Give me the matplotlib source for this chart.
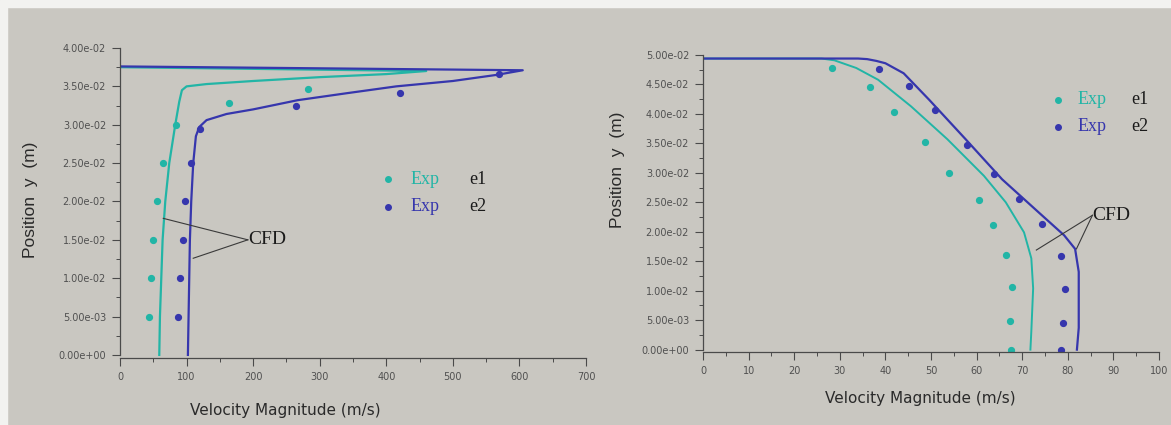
import numpy as np
import matplotlib
matplotlib.use('Agg')
import matplotlib.pyplot as plt
from matplotlib.patches import Rectangle
from matplotlib.ticker import MultipleLocator, FuncFormatter

# --- left panel: profile at the nozzle (m/s vs m) ---
cfd1_left_v = [59, 60, 62, 64, 68, 74, 83, 89, 93, 100, 130, 200, 300, 400, 460, 0]
cfd1_left_y = [0.0, 0.005, 0.010, 0.015, 0.020, 0.025, 0.030, 0.033, 0.0345, 0.0350,
               0.0353, 0.0357, 0.0362, 0.0366, 0.0370, 0.0375]
cfd2_left_v = [102, 103, 104, 105, 107, 110, 114, 119, 130, 160, 200, 267, 340, 415,
               500, 566, 605, 0]
cfd2_left_y = [0.0, 0.005, 0.010, 0.015, 0.020, 0.025, 0.0285, 0.0297, 0.0306, 0.0314,
               0.0320, 0.0332, 0.0341, 0.0350, 0.0357, 0.0365, 0.0371, 0.0376]
exp1_left_v = [43, 46, 50, 55, 64, 84, 163, 282]
exp1_left_y = [0.005, 0.010, 0.015, 0.020, 0.025, 0.030, 0.0328, 0.0347]
exp2_left_v = [87, 90, 95, 97, 107, 120, 264, 420, 570]
exp2_left_y = [0.005, 0.010, 0.015, 0.020, 0.025, 0.0295, 0.0325, 0.0341, 0.0366]

# --- right panel ---
cfd1_right_v = [0, 26, 28.8, 33.6, 38.4, 45.6, 53.6, 61.6, 66.4, 70.4, 72.0, 72.4, 72.0, 71.8]
cfd1_right_y = [0.0494, 0.0494, 0.0491, 0.0478, 0.0458, 0.0413, 0.0357, 0.0295, 0.0250,
                0.0199, 0.0155, 0.0104, 0.0031, 0.0]
cfd2_right_v = [0, 34, 36, 38, 40, 44, 49.6, 57.6, 65.6, 73.6, 79.2, 81.6, 82.4, 82.4, 82.0]
cfd2_right_y = [0.0494, 0.0494, 0.0493, 0.0490, 0.0486, 0.0469, 0.0424, 0.0357, 0.0289,
                0.0233, 0.0194, 0.0171, 0.0132, 0.0037, 0.0]
exp1_right_v = [28.2, 36.6, 41.8, 48.6, 54.0, 60.5, 63.7, 66.4, 67.8, 67.4, 67.6]
exp1_right_y = [0.0478, 0.0446, 0.0404, 0.0352, 0.0299, 0.0254, 0.0211, 0.0160,
                0.0107, 0.0048, 0.0]
exp2_right_v = [38.6, 45.2, 50.8, 57.8, 63.8, 69.3, 74.4, 78.6, 79.4, 78.9, 78.4]
exp2_right_y = [0.0476, 0.0447, 0.0406, 0.0348, 0.0298, 0.0256, 0.0213, 0.0159,
                0.0103, 0.0045, 0.0]

# CFD pointer: text anchor, then the two curve points it points to
cfd_left_text = (192, 0.0150)
cfd_left_targets = [(65, 0.0178), (110, 0.0126)]
cfd_right_text = (85.4, 0.0228)
cfd_right_targets = [(73.1, 0.0169), (81.9, 0.0171)]

cyan = '#22b5a6'
blue = '#3636ad'
bg = '#c9c7c1'
tick_c = '#505050'
narrow = ['Liberation Sans Narrow', 'DejaVu Sans']
serif = ['Liberation Serif', 'DejaVu Serif']

fig = plt.figure(figsize=(11.71, 4.25), dpi=100, facecolor=bg)
fig.patches.append(Rectangle((0, 1 - 7 / 425), 1, 7 / 425, transform=fig.transFigure,
                             color='#f2f2f0', zorder=0))
fig.patches.append(Rectangle((0, 0), 7 / 1171, 1, transform=fig.transFigure,
                             color='#f2f2f0', zorder=0))


def style(ax, xmax, xmaj, xmin, ymax):
    ax.set_facecolor(bg)
    for s in ['top', 'right']:
        ax.spines[s].set_visible(False)
    for s in ['left', 'bottom']:
        ax.spines[s].set_color('#4a4a4a')
        ax.spines[s].set_linewidth(0.9)
    ax.set_xlim(0, xmax)
    ax.set_ylim(-0.0004, ymax)
    ax.spines['left'].set_bounds(0, ymax)
    ax.xaxis.set_major_locator(MultipleLocator(xmaj))
    ax.xaxis.set_minor_locator(MultipleLocator(xmin))
    ax.yaxis.set_major_locator(MultipleLocator(0.005))
    ax.yaxis.set_minor_locator(MultipleLocator(0.0025))
    ax.yaxis.set_major_formatter(FuncFormatter(lambda v, p: '{:.2e}'.format(abs(v) if abs(v) < 1e-9 else v)))
    ax.xaxis.set_major_formatter(FuncFormatter(lambda v, p: '%d' % round(v)))
    ax.tick_params(which='major', direction='out', length=6, width=0.8, color='#4a4a4a',
                   labelsize=7, labelcolor=tick_c, pad=4)
    ax.tick_params(which='minor', direction='out', length=3, width=0.7, color='#4a4a4a')
    for lab in ax.get_xticklabels() + ax.get_yticklabels():
        lab.set_family(narrow)
    ax.set_xlabel('Velocity Magnitude (m/s)', family=narrow, fontsize=11, color='#2a2a2a')
    ax.set_ylabel('Position  y  (m)', family=['Liberation Sans', 'DejaVu Sans'],
                  fontsize=12.5, color='#2a2a2a')


def legend(ax, x, y1, y2, dx1, dx2):
    ax.plot([x], [y1], 'o', ms=4, color=cyan)
    ax.plot([x], [y2], 'o', ms=4, color=blue)
    ax.text(x + dx1, y1, 'Exp', color=cyan, family=serif, fontsize=13, va='center')
    ax.text(x + dx1, y2, 'Exp', color=blue, family=serif, fontsize=13, va='center')
    ax.text(x + dx2, y1, 'e1', color='#1a1a1a', family=serif, fontsize=13, va='center')
    ax.text(x + dx2, y2, 'e2', color='#1a1a1a', family=serif, fontsize=13, va='center')


def cfd_label(ax, anchor, targets, ha):
    for tx, ty in targets:
        ax.plot([anchor[0], tx], [anchor[1], ty], color='#3a3a3a', lw=0.8)
    ax.text(anchor[0], anchor[1], 'CFD', family=serif, fontsize=14, color='#1a1a1a',
            ha=ha, va='center')


# left panel
ax1 = fig.add_axes([120 / 1171, 1 - 358 / 425, 466 / 1171, 310 / 425])
style(ax1, 700, 100, 50, 0.04)
ax1.plot(cfd1_left_v, cfd1_left_y, color=cyan, lw=1.6)
ax1.plot(cfd2_left_v, cfd2_left_y, color=blue, lw=1.6)
ax1.plot(exp1_left_v, exp1_left_y, 'o', ms=4.2, color=cyan)
ax1.plot(exp2_left_v, exp2_left_y, 'o', ms=4.2, color=blue)
legend(ax1, 403, 0.0229, 0.0193, 34, 122)
cfd_label(ax1, cfd_left_text, cfd_left_targets, 'left')
ax1.xaxis.set_label_coords(0.354, -0.145)
ax1.yaxis.set_label_coords(-0.175, 0.51)

# right panel
ax2 = fig.add_axes([703 / 1171, 1 - 352 / 425, 456 / 1171, 297 / 425])
style(ax2, 100, 10, 5, 0.05)
ax2.plot(cfd1_right_v, cfd1_right_y, color=cyan, lw=1.4)
ax2.plot(cfd2_right_v, cfd2_right_y, color=blue, lw=1.6)
ax2.plot(exp1_right_v, exp1_right_y, 'o', ms=4.2, color=cyan)
ax2.plot(exp2_right_v, exp2_right_y, 'o', ms=4.2, color=blue)
legend(ax2, 77.9, 0.0424, 0.0378, 4.3, 16)
cfd_label(ax2, cfd_right_text, cfd_right_targets, 'left')
ax2.xaxis.set_label_coords(0.476, -0.13)
ax2.yaxis.set_label_coords(-0.172, 0.613)

plt.savefig('out.png', dpi=100, facecolor=bg)
